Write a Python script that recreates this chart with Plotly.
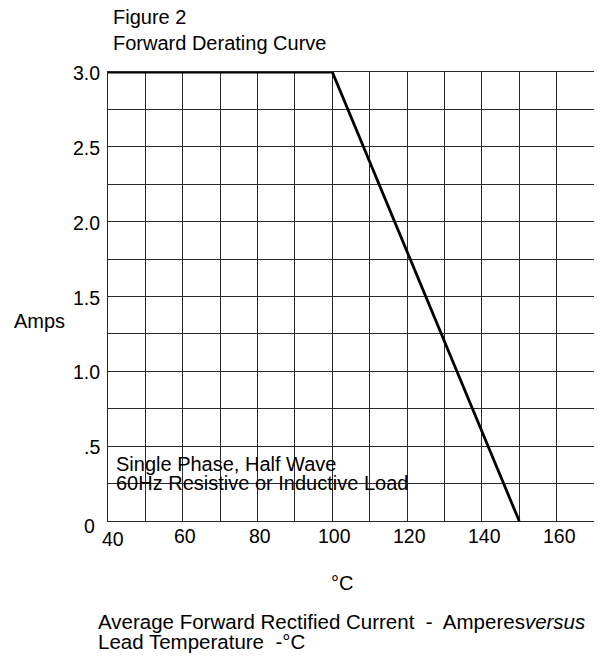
import plotly.graph_objects as go

temp_c = [40, 100, 150]
amps = [3.0, 3.0, 0.0]
x_tick_vals = [40, 60, 80, 100, 120, 140, 160]
x_tick_text = ["40", "60", "80", "100", "120", "140", "160"]
y_tick_vals = [3.0, 2.5, 2.0, 1.5, 1.0, 0.5, 0.0]
y_tick_text = ["3.0", "2.5", "2.0", "1.5", "1.0", ".5", "0"]

FONT = "Liberation Sans, Arial, Helvetica, sans-serif"
FS = 20
TFS = 19.5

# page body has an 8px margin; size figure to fit the window
W, H = 594, 651
L, T = 100, 64
R, B = 586, 512.7

fig = go.Figure()
fig.add_trace(go.Scatter(x=temp_c, y=amps, mode="lines",
                         line=dict(color="black", width=2.8), showlegend=False,
                         hoverinfo="skip", cliponaxis=False))

axis_style = dict(showgrid=True, gridcolor="#2a2a2a", gridwidth=1,
                  showticklabels=False, showline=True, linecolor="#2a2a2a",
                  linewidth=1, mirror=True, zeroline=False, ticks="")
fig.update_xaxes(range=[40, 170], tick0=40, dtick=10, **axis_style)
fig.update_yaxes(range=[0, 3.0], tick0=0, dtick=0.25, **axis_style)

ann = []
for v, t in zip(x_tick_vals, x_tick_text):
    xs, ys = (5, -18) if v == 40 else (2.5, -15)
    ann.append(dict(x=v, y=0, xref="x", yref="y", text=t, showarrow=False,
                    xanchor="center", yanchor="middle", xshift=xs, yshift=ys,
                    font=dict(family=FONT, size=TFS, color="black")))
for v, t in zip(y_tick_vals, y_tick_text):
    xs, ys = (-11, -5) if v == 0 else (-6, -1)
    ann.append(dict(x=40, y=v, xref="x", yref="y", text=t, showarrow=False,
                    xanchor="right", yanchor="middle", xshift=xs, yshift=ys,
                    font=dict(family=FONT, size=TFS, color="black")))


def px(xr, yr):
    # reference-picture pixel -> paper fraction
    xf = xr - 8
    yf = yr - 8
    return (xf - L) / (R - L), (B - yf) / (B - T)


texts = [
    ("Figure 2", 111, 17, FS),
    ("Forward Derating Curve", 111, 43, FS),
    ("Single Phase, Half Wave", 114, 463.5, FS),
    ("60Hz Resistive or Inductive Load", 114, 482.5, FS),
    ("°C", 329, 583, FS),
    ("Average Forward Rectified Current&nbsp; -&nbsp; Amperes<i>versus</i>", 96, 621, 20.5),
    ("Lead Temperature&nbsp; -°C", 96, 641.5, 20.5),
    ("Amps", 12, 321, FS),
]
for t, xr, yr, fs in texts:
    xx, yy = px(xr, yr)
    ann.append(dict(x=xx, y=yy, xref="paper", yref="paper", text=t,
                    showarrow=False, xanchor="left", yanchor="middle",
                    font=dict(family=FONT, size=fs, color="black")))

fig.update_layout(
    width=W, height=H,
    margin=dict(l=L, r=W - R, t=T, b=H - B, pad=0),
    paper_bgcolor="white", plot_bgcolor="white",
    showlegend=False,
    annotations=ann,
)
fig.write_html("out.html")
